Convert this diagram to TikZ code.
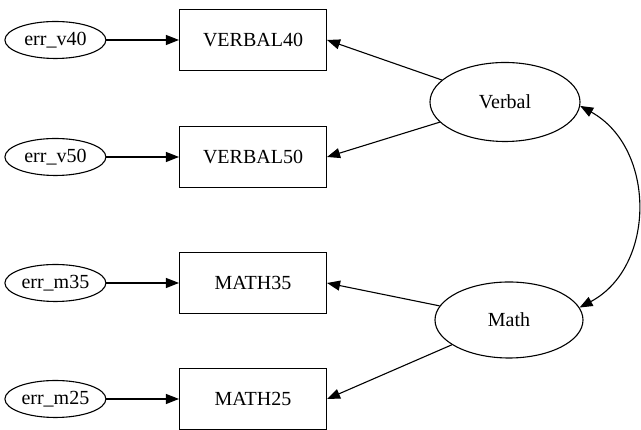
\documentclass[tikz,border=0pt]{standalone}
\usepackage{fontspec}
\setmainfont{Liberation Serif}
\usetikzlibrary{positioning,arrows.meta,shapes.geometric}

\begin{document}
\begin{tikzpicture}[
    x=1pt, y=1pt,
    font=\fontsize{20}{24}\selectfont,
    errnode/.style={draw, ellipse, line width=1.1pt, inner sep=0pt,
                    minimum width=101pt, minimum height=37pt},
    indicator/.style={draw, rectangle, line width=1.1pt, inner sep=0pt,
                      minimum width=147pt, minimum height=61pt},
    latent/.style={draw, ellipse, line width=1.1pt, inner sep=0pt,
                   minimum width=150pt, minimum height=79pt},
    arr/.style={-{Triangle[length=13pt,width=10pt]}, line width=1.1pt},
    biarr/.style={{Triangle[length=13pt,width=10pt]}-{Triangle[length=13pt,width=10pt]},
                  line width=1.1pt}
  ]
  \useasboundingbox (0,0) rectangle (641,430);

  % ========= observed indicators =========
  \node[indicator] (verbal40) at (253,390) {VERBAL40};
  \node[indicator] (verbal50) at (253,273) {VERBAL50};
  \node[indicator] (math35)   at (253,147) {MATH35};
  \node[indicator] (math25)   at (253,31)  {MATH25};

  % ========= error terms =========
  \node[errnode, left=72.5pt of verbal40] (errv40) {err\_v40};
  \node[errnode, left=72.5pt of verbal50] (errv50) {err\_v50};
  \node[errnode, left=72.5pt of math35]   (errm35) {err\_m35};
  \node[errnode, left=72.5pt of math25]   (errm25) {err\_m25};

  \draw[arr] (errv40) -- (verbal40);
  \draw[arr] (errv50) -- (verbal50);
  \draw[arr] (errm35) -- (math35);
  \draw[arr] (errm25) -- (math25);

  % ========= latent factors =========
  \node[latent] (verbal) at (505,328) {Verbal};
  \node[latent, minimum width=148pt, minimum height=76pt] (math) at (509,110) {Math};

  \draw[arr] (verbal) -- (verbal40.east);
  \draw[arr] (verbal) -- (verbal50.east);
  \draw[arr] (math)   -- (math35.east);
  \draw[arr] (math)   -- (math25.east);

  % covariance between factors
  \draw[biarr] (verbal.-3) to[out=-29,in=28,looseness=1.1] (math.10);

\end{tikzpicture}
\end{document}
